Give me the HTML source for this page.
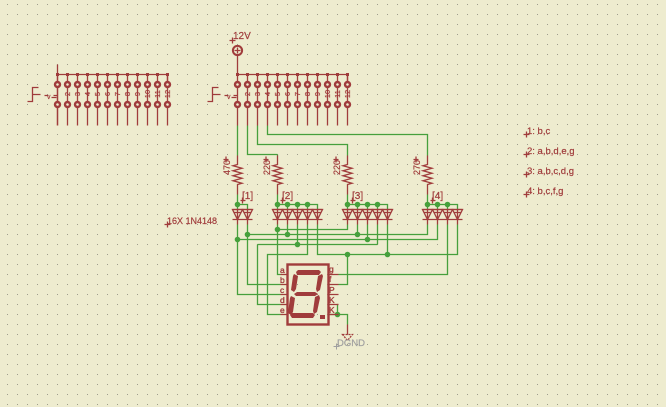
<!DOCTYPE html>
<html><head><meta charset="utf-8"><style>
html,body{margin:0;padding:0;background:#eeeccf;width:666px;height:407px;overflow:hidden}
svg{display:block}
text{font-family:"Liberation Sans",sans-serif;fill:#a03c3c;stroke:#a03c3c;stroke-width:.2}
.r{stroke:#a03c3c;fill:none;stroke-width:1.3}
.g{stroke:#46a03c;fill:none;stroke-width:1.3}
.n{font-size:7.500px;text-anchor:middle}
.v{font-size:9.500px}
.p{font-size:8.500px;stroke-width:.3}
</style></head><body>
<svg width="666" height="407" viewBox="0 0 666 407" xmlns="http://www.w3.org/2000/svg">
<defs>
<pattern id="dots" x="0" y="0" width="10" height="10" patternUnits="userSpaceOnUse"><rect x="7" y="4" width="1" height="1" fill="#9c9c8c"/></pattern>
<g id="pin"><path class="r" d="M0 -10V41"/><rect x="-1.500" y="-11.500" width="3" height="3" fill="#a03c3c"/><circle cx="0" cy="0" r="2.500" fill="#eeeccf" stroke="#a03c3c" stroke-width="2.400"/><circle cx="0" cy="20" r="2.500" fill="#eeeccf" stroke="#a03c3c" stroke-width="2.400"/></g>
<g id="hdr">
<path class="r" d="M0 -10H110V0M-30 17H-25V3H-19M-25 10H-17M-13 11H-9M-4 11H0M-6 13H-1"/>
<use href="#pin" x="0"/><use href="#pin" x="10"/><use href="#pin" x="20"/><use href="#pin" x="30"/><use href="#pin" x="40"/><use href="#pin" x="50"/><use href="#pin" x="60"/><use href="#pin" x="70"/><use href="#pin" x="80"/><use href="#pin" x="90"/><use href="#pin" x="100"/><use href="#pin" x="110"/>
</g>
<g id="res"><path class="r" d="M0 -9V0L-4.500 1.250 4.500 3.750-4.500 6.250 4.500 8.750-4.500 11.250 4.500 13.750-4.500 16.250 4.500 18.750 0 20V30"/></g>
<g id="led"><path class="r" d="M0 5V20M-5 5H5L0 15ZM-3 8L3 8"/></g>
<circle id="j" r="2.800" fill="#46a03c"/>
</defs>
<rect width="666" height="407" fill="#eeeccf"/>
<rect width="666" height="407" fill="url(#dots)"/>
<g transform="translate(.5 .5)">
<!-- green wires -->
<path class="g" d="M237 125V155M237 194V204H247V209M247 125V154H277M267 125V134H427V155M257 125V144H347V155M277 154V155M277 194V204H317V209M347 194V204H387V209M427 194V204H457V209"/>
<path class="g" d="M237 224V294H280M247 224V284H280M277 224V274H280M287 224V234M297 224V244M307 224V254H267V314H280M317 224V254H457V224M347 224V229H277M357 224V234M367 224V239M377 224V244M387 224V254M427 224V234H247M437 224V239H237M447 224V274H338M257 244V304H280M257 244H377M347 254V284H338M338 304H337V314M328 314H347V324"/>
<path class="g" d="M287 204V209M297 204V209M307 204V209M357 204V209M367 204V209M377 204V209M437 204V209M447 204V209M277 204V209M237 204V209M347 204V209M427 204V209"/>
<!-- headers -->
<path class="r" d="M57 64V125"/>
<use href="#hdr" x="57" y="84"/>
<use href="#hdr" x="237" y="84"/>
<!-- supply -->
<path class="r" d="M237 55V74"/>
<circle cx="237" cy="50" r="4.600" fill="none" stroke="#a03c3c" stroke-width="2"/>
<path class="r" d="M234 50H240M237 47V53M229 40H235M232 37V43"/>
<!-- resistors -->
<use href="#res" x="237" y="164"/><use href="#res" x="277" y="164"/><use href="#res" x="347" y="164"/><use href="#res" x="427" y="164"/>
<!-- LEDs -->
<use href="#led" x="237" y="204"/><use href="#led" x="247" y="204"/>
<use href="#led" x="277" y="204"/><use href="#led" x="287" y="204"/><use href="#led" x="297" y="204"/><use href="#led" x="307" y="204"/><use href="#led" x="317" y="204"/>
<use href="#led" x="347" y="204"/><use href="#led" x="357" y="204"/><use href="#led" x="367" y="204"/><use href="#led" x="377" y="204"/><use href="#led" x="387" y="204"/>
<use href="#led" x="427" y="204"/><use href="#led" x="437" y="204"/><use href="#led" x="447" y="204"/><use href="#led" x="457" y="204"/>
<path class="r" d="M232 209H252M232 219H252M272 209H322M272 219H322M342 209H392M342 219H392M422 209H462M422 219H462"/>
<!-- junctions -->
<use href="#j" x="237" y="204"/>
<use href="#j" x="277" y="204"/><use href="#j" x="287" y="204"/><use href="#j" x="297" y="204"/><use href="#j" x="307" y="204"/>
<use href="#j" x="347" y="204"/><use href="#j" x="357" y="204"/><use href="#j" x="367" y="204"/><use href="#j" x="377" y="204"/>
<use href="#j" x="427" y="204"/><use href="#j" x="437" y="204"/><use href="#j" x="447" y="204"/>
<use href="#j" x="277" y="229"/><use href="#j" x="247" y="234"/><use href="#j" x="287" y="234"/><use href="#j" x="237" y="239"/><use href="#j" x="297" y="244"/>
<use href="#j" x="357" y="234"/><use href="#j" x="367" y="239"/><use href="#j" x="347" y="254"/><use href="#j" x="387" y="254"/><use href="#j" x="337" y="314"/>
<!-- display -->
<rect x="287" y="264" width="41" height="60" fill="none" stroke="#a03c3c" stroke-width="2.400"/>
<path class="r" d="M280 274H287M280 284H287M280 294H287M280 304H287M280 314H287M328 274H338M328 284H338M328 294H338M328 304H338M328 314H338"/>
<g fill="#a03c3c" transform="translate(-.5 -.5)">
<polygon points="298,270 319,270 321,272 319,275 297,275 296,272"/>
<polygon points="294,274 298,276 296,289 294,292 291,290 293,276"/>
<polygon points="322,274 323,276 320,290 317,292 316,289 318,276"/>
<polygon points="297,292 315,292 318,294 315,296 296,296 294,294"/>
<polygon points="291,296 295,298 293,312 291,315 288,313 290,298"/>
<polygon points="319,295 320,298 317,312 314,314 313,311 315,297"/>
<polygon points="292,313 313,313 315,315 313,318 292,318 290,315"/>
<rect x="320" y="315" width="5" height="4"/>
</g>
<!-- ground -->
<path class="r" d="M342 334H352L347 340Z" stroke-dasharray="2 1"/>
<path class="r" d="M347 324V334"/>
<path d="M333 346H339M336 343V349" stroke="#a0a0a0" fill="none"/>
<path class="r" d="M223 159H228M225.500 156V162M263 159H268M265.500 156V162M333 159H338M335.500 156V162M413 159H418M415.500 156V162"/>
<path class="r" d="M240 200H245M242 197V203M280 200H285M282 197V203M350 200H355M352 197V203M430 200H435M432 197V203"/>
<path class="r" d="M164 224H170M167 221V227M523 134H529M526 131V137M523 154H529M526 151V157M523 174H529M526 171V177M523 194H529M526 191V197"/>
</g>
<!-- text -->
<text class="n" transform="translate(70,94) rotate(-90)">2</text><text class="n" transform="translate(80,94) rotate(-90)">3</text><text class="n" transform="translate(90,94) rotate(-90)">4</text><text class="n" transform="translate(100,94) rotate(-90)">5</text><text class="n" transform="translate(110,94) rotate(-90)">6</text><text class="n" transform="translate(120,94) rotate(-90)">7</text><text class="n" transform="translate(130,94) rotate(-90)">8</text><text class="n" transform="translate(140,94) rotate(-90)">9</text><text class="n" transform="translate(150,94) rotate(-90)">10</text><text class="n" transform="translate(160,94) rotate(-90)">11</text><text class="n" transform="translate(170,94) rotate(-90)">12</text>
<text class="n" transform="translate(250,94) rotate(-90)">2</text><text class="n" transform="translate(260,94) rotate(-90)">3</text><text class="n" transform="translate(270,94) rotate(-90)">4</text><text class="n" transform="translate(280,94) rotate(-90)">5</text><text class="n" transform="translate(290,94) rotate(-90)">6</text><text class="n" transform="translate(300,94) rotate(-90)">7</text><text class="n" transform="translate(310,94) rotate(-90)">8</text><text class="n" transform="translate(320,94) rotate(-90)">9</text><text class="n" transform="translate(330,94) rotate(-90)">10</text><text class="n" transform="translate(340,94) rotate(-90)">11</text><text class="n" transform="translate(350,94) rotate(-90)">12</text>
<text x="47" y="99" style="font-size:7px">v</text>
<text x="227" y="99" style="font-size:7px">v</text>
<text x="233" y="39" style="font-size:10px">12V</text>
<text transform="translate(230,175) rotate(-90)" style="font-size:9px">470</text>
<text transform="translate(270,175) rotate(-90)" style="font-size:9px">220</text>
<text transform="translate(340,175) rotate(-90)" style="font-size:9px">220</text>
<text transform="translate(420,175) rotate(-90)" style="font-size:9px">270</text>
<text x="242" y="199" style="font-size:10px">[1]</text>
<text x="282" y="199" style="font-size:10px">[2]</text>
<text x="352" y="199" style="font-size:10px">[3]</text>
<text x="432" y="199" style="font-size:10px">[4]</text>
<text x="167" y="224" style="font-size:9px">16X 1N4148</text>
<text x="527" y="134" class="v">1: b,c</text>
<text x="527" y="154" class="v">2: a,b,d,e,g</text>
<text x="527" y="174" class="v">3: a,b,c,d,g</text>
<text x="527" y="194" class="v">4: b,c,f,g</text>
<text x="337" y="346" style="font-size:9.500px;fill:#a0a0a0;stroke:#a0a0a0">DGND</text>
<text x="280" y="273" class="p">a</text>
<text x="280" y="283" class="p">b</text>
<text x="280" y="293" class="p">c</text>
<text x="280" y="303" class="p">d</text>
<text x="280" y="313" class="p">e</text>
<text x="329" y="272" class="p">g</text>
<text x="329" y="282" class="p">f</text>
<text x="329" y="293" class="p">P</text>
<text x="329" y="303" class="p">K</text>
<text x="329" y="313" class="p">K</text>
</svg>
</body></html>
